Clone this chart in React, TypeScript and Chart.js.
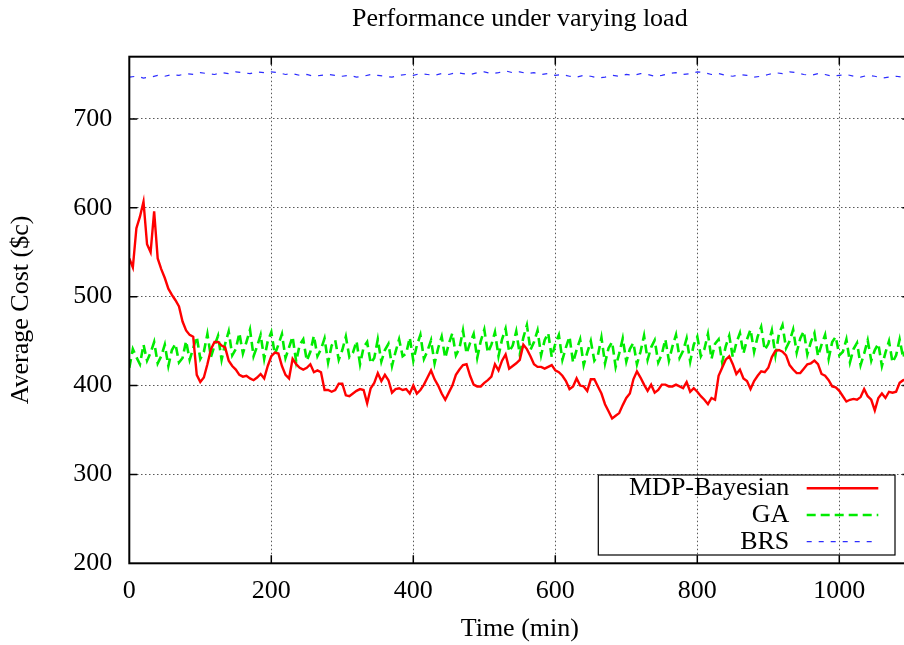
import React, { useEffect, useRef } from "react";
import { Chart, registerables } from "chart.js";

Chart.register(...registerables);

// Sampling interval (minutes) of each series
const TIME_STEP = 5;
const BRS_STEP = 10;

// Average cost per sample, MDP-Bayesian controller
const mdpBayesian = [
  543, 533, 577, 590, 607, 559, 550, 596, 543, 531,
  521, 509, 502, 496, 489, 472, 462, 457, 455, 412,
  404, 409, 424, 441, 449, 449, 445, 443, 428, 422,
  418, 412, 410, 411, 408, 406, 409, 413, 408, 422,
  433, 437, 436, 422, 412, 408, 430, 424, 420, 418,
  420, 424, 415, 417, 415, 395, 395, 393, 395, 402,
  402, 389, 388, 391, 394, 396, 395, 380, 397, 403,
  414, 405, 412, 406, 392, 396, 397, 395, 396, 391,
  400, 391, 395, 401, 409, 417, 407, 400, 391, 384,
  392, 400, 412, 418, 423, 424, 411, 401, 399, 399,
  403, 406, 410, 424, 417, 428, 435, 419, 422, 425,
  429, 446, 441, 433, 424, 421, 421, 419, 421, 423,
  417, 415, 411, 405, 396, 399, 408, 400, 399, 394,
  407, 407, 399, 391, 379, 371, 363, 366, 369, 378,
  386, 391, 407, 416, 409, 401, 394, 401, 392, 395,
  401, 401, 399, 399, 401, 399, 397, 404, 393, 397,
  393, 388, 384, 379, 386, 384, 411, 420, 429, 433,
  424, 413, 418, 408, 405, 396, 405, 411, 416, 415,
  420, 432, 439, 440, 438, 434, 423, 418, 414, 414,
  419, 424, 425, 428, 424, 413, 411, 406, 399, 398,
  394, 388, 382, 384, 385, 384, 387, 396, 388, 384,
  372, 386, 391, 386, 393, 392, 393, 403, 406, 407,
  408,
];

// Average cost per sample, genetic algorithm
const gaCost = [
  420, 441, 432, 424, 446, 428, 437, 449, 425, 433,
  446, 422, 440, 447, 426, 431, 450, 429, 442, 455,
  430, 438, 458, 432, 445, 456, 429, 447, 461, 434,
  441, 459, 436, 449, 463, 433, 444, 457, 430, 450,
  460, 435, 446, 458, 431, 443, 455, 427, 446, 452,
  428, 438, 456, 433, 441, 453, 426, 445, 451, 429,
  440, 455, 432, 437, 450, 424, 443, 449, 425, 431,
  452, 427, 440, 447, 422, 438, 452, 433, 436, 454,
  428, 445, 457, 430, 439, 451, 425, 442, 455, 431,
  447, 459, 434, 442, 462, 436, 448, 458, 431, 450,
  463, 437, 446, 460, 433, 452, 464, 438, 445, 461,
  435, 454, 468, 440, 449, 462, 434, 451, 459, 432,
  447, 457, 429, 443, 455, 426, 440, 452, 423, 437,
  450, 428, 434, 454, 425, 442, 449, 421, 436, 453,
  427, 441, 448, 424, 438, 456, 429, 443, 451, 426,
  435, 452, 428, 444, 457, 431, 439, 453, 427, 446,
  455, 433, 441, 458, 430, 447, 452, 426, 444, 456,
  432, 448, 459, 436, 452, 463, 438, 455, 466, 440,
  447, 462, 434, 458, 468, 442, 450, 463, 437, 453,
  461, 435, 449, 459, 433, 446, 457, 430, 449, 455,
  434, 438, 452, 426, 441, 448, 423, 436, 451, 428,
  440, 447, 422, 437, 450, 426, 434, 452, 431, 445,
  448,
];

// Average cost per sample, BRS baseline
const brsCost = [
  747, 748, 746, 747, 749, 748, 750, 749, 751, 750,
  752, 751, 750, 752, 751, 753, 752, 751, 753, 752,
  753, 752, 750, 751, 749, 750, 748, 749, 750, 749,
  748, 749, 747, 748, 750, 749, 748, 747, 749, 750,
  749, 751, 750, 749, 751, 750, 752, 751, 750, 752,
  753, 751, 752, 754, 752, 753, 751, 752, 750, 751,
  749, 750, 748, 747, 749, 748, 746, 747, 749, 748,
  750, 749, 751, 750, 748, 749, 751, 752, 750, 751,
  753, 752, 750, 751, 749, 748, 750, 749, 747, 748,
  750, 752, 751, 753, 752, 750, 749, 751, 750, 748,
  749, 750, 748, 747, 749, 748, 746, 747, 748, 747,
  748,
];

const seriesLabels = ["MDP-Bayesian", "GA", "BRS"];
const xTickValues = [0, 200, 400, 600, 800, 1000];
const yTickValues = [200, 300, 400, 500, 600, 700];
const X_MIN = 0;
const X_MAX = 1100;
const Y_MIN = 200;
const Y_MAX = 770;

const toPoints = (values: number[], step: number) =>
  values.map((v, i) => ({ x: i * step, y: v }));

const SERIF = "'Liberation Serif', 'Times New Roman', Times, serif";
const FONT_SIZE = 26;
const LINE_H = FONT_SIZE * 1.2;

const CANVAS_W = 920;
const CANVAS_H = 645;
const PLOT_LEFT = 129.3;
const PLOT_TOP = 56.7;
const PLOT_BOTTOM = 563.3;
const PLOT_RIGHT = 910.3;
const TITLE_TOP_GAP = 3.2;

const textFont = { family: SERIF, size: FONT_SIZE, weight: "normal" as const, lineHeight: 1.2 };
const plainNumber = (v: number | string) => String(v);

// Border frame, inward tick marks and the key box inside the plot area
const frameAndKey = {
  id: "frameAndKey",
  afterDraw(chart: any) {
    const { ctx, chartArea: a, scales } = chart;
    ctx.save();
    ctx.setLineDash([]);
    ctx.strokeStyle = "#000";

    const TICK = 8;
    ctx.lineWidth = 1.5;
    ctx.beginPath();
    for (const v of xTickValues) {
      const px = scales.x.getPixelForValue(v);
      if (px <= a.left + 1 || px >= a.right - 1) continue;
      ctx.moveTo(px, a.bottom);
      ctx.lineTo(px, a.bottom - TICK);
      ctx.moveTo(px, a.top);
      ctx.lineTo(px, a.top + TICK);
    }
    for (const v of yTickValues) {
      const py = scales.y.getPixelForValue(v);
      if (py >= a.bottom - 1 || py <= a.top + 1) continue;
      ctx.moveTo(a.left, py);
      ctx.lineTo(a.left + TICK, py);
      ctx.moveTo(a.right, py);
      ctx.lineTo(a.right - TICK, py);
    }
    ctx.stroke();

    ctx.lineWidth = 2;
    ctx.strokeRect(a.left, a.top, a.right - a.left, a.bottom - a.top);

    // key
    const boxW = 296.7;
    const boxH = 80;
    const boxRight = a.right - 15.3;
    const boxBottom = a.bottom - 8.3;
    const boxLeft = boxRight - boxW;
    const boxTop = boxBottom - boxH;
    ctx.lineWidth = 1.2;
    ctx.strokeRect(boxLeft, boxTop, boxW, boxH);

    ctx.font = `normal ${FONT_SIZE}px ${SERIF}`;
    ctx.fillStyle = "#000";
    ctx.textAlign = "right";
    ctx.textBaseline = "middle";
    chart.data.datasets.forEach((ds: any, i: number) => {
      const y = boxTop + 13.3 + i * 26.7;
      ctx.fillText(ds.label, boxLeft + 191, y);
      ctx.save();
      ctx.strokeStyle = ds.borderColor;
      ctx.lineWidth = ds.borderWidth;
      ctx.setLineDash(ds.borderDash || []);
      ctx.beginPath();
      ctx.moveTo(boxLeft + 208.4, y);
      ctx.lineTo(boxLeft + 280, y);
      ctx.stroke();
      ctx.restore();
    });
    ctx.restore();
  },
};

export default function App() {
  const canvasRef = useRef<HTMLCanvasElement>(null);

  useEffect(() => {
    const canvas = canvasRef.current;
    if (!canvas) return;
    const chart = new Chart(canvas, {
      type: "line",
      data: {
        datasets: [
          {
            label: seriesLabels[0],
            data: toPoints(mdpBayesian, TIME_STEP),
            borderColor: "rgb(255,0,0)",
            borderWidth: 2.4,
            pointRadius: 0,
          },
          {
            label: seriesLabels[1],
            data: toPoints(gaCost, TIME_STEP),
            borderColor: "rgb(0,235,0)",
            borderWidth: 2.6,
            borderDash: [9, 5],
            pointRadius: 0,
          },
          {
            label: seriesLabels[2],
            data: toPoints(brsCost, BRS_STEP),
            borderColor: "rgb(45,45,255)",
            borderWidth: 1.2,
            borderDash: [5, 7],
            pointRadius: 0,
          },
        ],
      },
      options: {
        animation: false,
        responsive: false,
        devicePixelRatio: 1,
        layout: { padding: { left: 0, right: CANVAS_W - PLOT_RIGHT, top: 0, bottom: 0 } },
        plugins: {
          legend: { display: false },
          tooltip: { enabled: false },
          title: {
            display: true,
            text: "Performance under varying load",
            color: "#000",
            font: textFont,
            fullSize: false,
            padding: { top: TITLE_TOP_GAP, bottom: PLOT_TOP - TITLE_TOP_GAP - LINE_H },
          },
        },
        scales: {
          x: {
            type: "linear",
            min: X_MIN,
            max: X_MAX,
            afterBuildTicks: (s: any) => {
              s.ticks = xTickValues.map((value) => ({ value }));
            },
            afterFit: (s: any) => {
              s.height = CANVAS_H - PLOT_BOTTOM;
            },
            ticks: {
              color: "#000",
              font: textFont,
              padding: 12,
              maxRotation: 0,
              autoSkip: false,
              callback: plainNumber,
            },
            grid: { color: "rgba(0,0,0,0.65)", lineWidth: 1, drawTicks: false },
            border: { display: false, dash: [1.5, 2.5] },
            title: {
              display: true,
              text: "Time (min)",
              color: "#000",
              font: textFont,
              padding: { top: 0, bottom: 0 },
            },
          },
          y: {
            type: "linear",
            min: Y_MIN,
            max: Y_MAX,
            afterBuildTicks: (s: any) => {
              s.ticks = yTickValues.map((value) => ({ value }));
            },
            afterFit: (s: any) => {
              s.width = PLOT_LEFT;
            },
            ticks: { color: "#000", font: textFont, padding: 17, callback: plainNumber },
            grid: { color: "rgba(0,0,0,0.65)", lineWidth: 1, drawTicks: false },
            border: { display: false, dash: [1.5, 2.5] },
            title: {
              display: true,
              text: "Average Cost ($c)",
              color: "#000",
              font: textFont,
              padding: { top: 5.6, bottom: 0 },
            },
          },
        },
      },
      plugins: [frameAndKey],
    } as any);
    return () => chart.destroy();
  }, []);

  return (
    <div
      style={{
        position: "absolute",
        left: 0,
        top: 0,
        width: 904,
        height: 645,
        overflow: "hidden",
        background: "#fff",
      }}
    >
      <canvas
        ref={canvasRef}
        width={CANVAS_W}
        height={CANVAS_H}
        style={{ display: "block", width: CANVAS_W, height: CANVAS_H }}
      />
    </div>
  );
}
